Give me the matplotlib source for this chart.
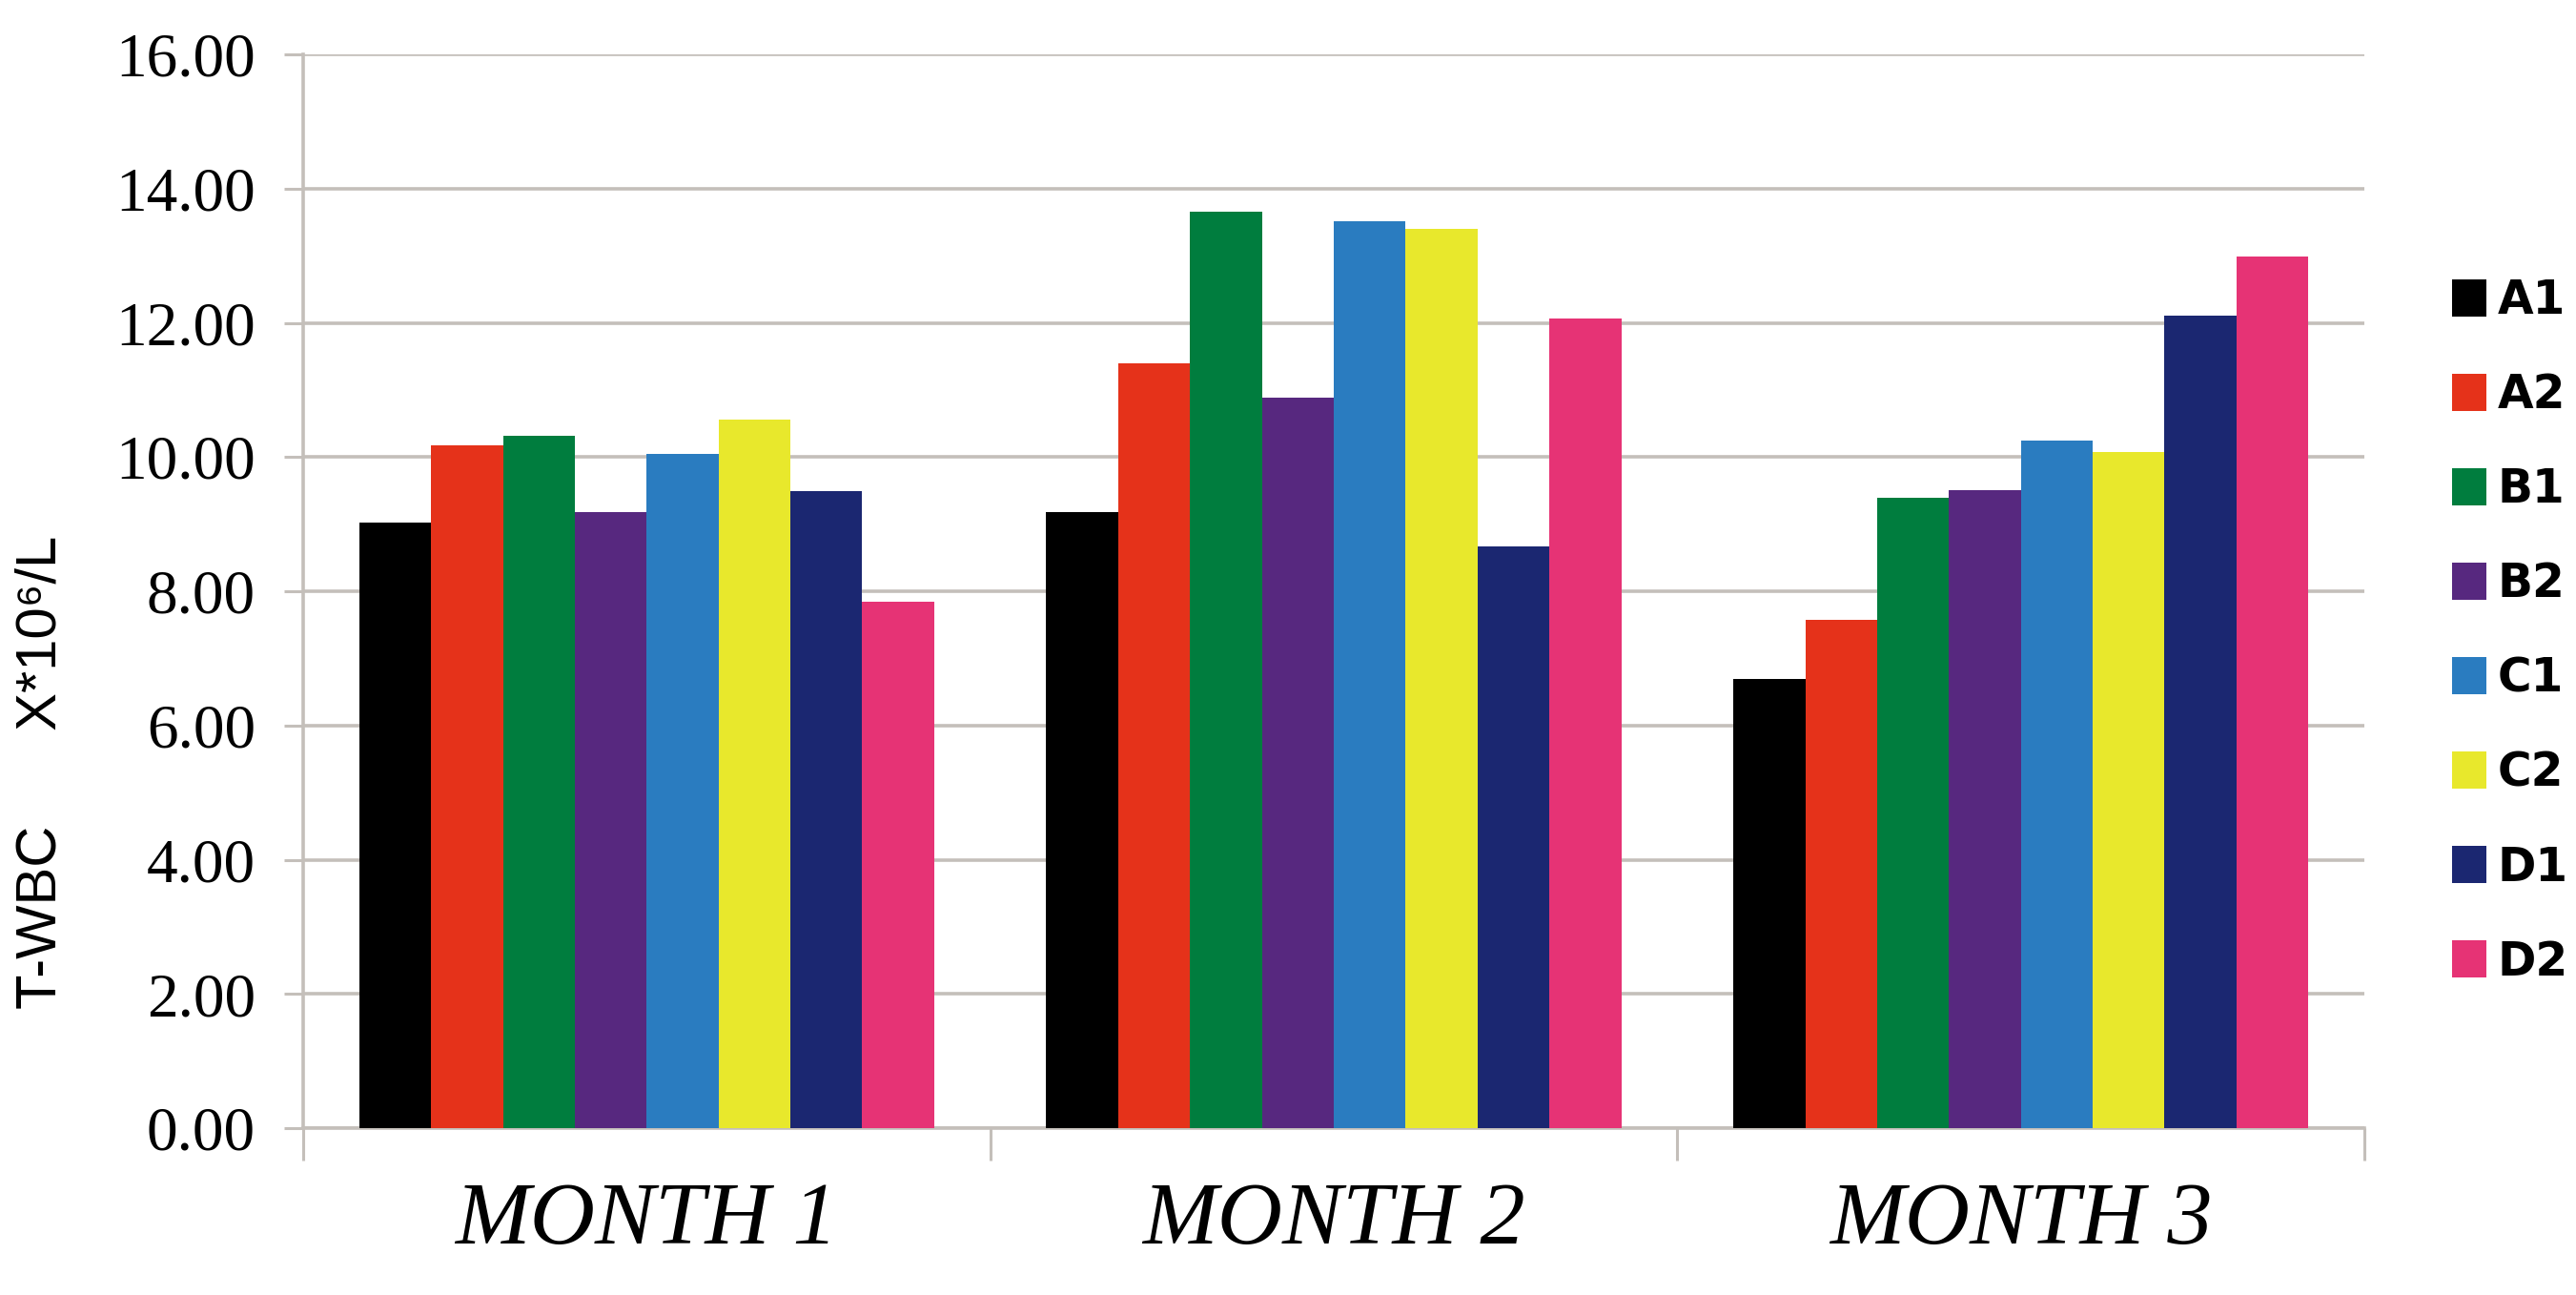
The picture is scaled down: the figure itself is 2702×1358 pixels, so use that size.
import matplotlib
matplotlib.use("Agg")
import matplotlib.pyplot as plt
import numpy as np
from matplotlib.ticker import FixedLocator

# ---- data ----
months = ["MONTH 1", "MONTH 2", "MONTH 3"]
groups = ["A1", "A2", "B1", "B2", "C1", "C2", "D1", "D2"]
A1 = [9.03, 9.18, 6.69]
A2 = [10.18, 11.39, 7.57]
B1 = [10.31, 13.65, 9.39]
B2 = [9.18, 10.88, 9.50]
C1 = [10.05, 13.51, 10.24]
C2 = [10.56, 13.40, 10.08]
D1 = [9.49, 8.67, 12.11]
D2 = [7.84, 12.06, 12.99]
series = [A1, A2, B1, B2, C1, C2, D1, D2]
colors = ["#000000", "#e5321a", "#007d3e", "#57287f",
          "#2a7cc0", "#e8e82c", "#1b2771", "#e63375"]
yticks = [0, 2, 4, 6, 8, 10, 12, 14, 16]

W, H = 2702, 1358
fig = plt.figure(figsize=(W / 100, H / 100), dpi=100)
fig.patch.set_facecolor("white")
ax = fig.add_axes([318 / W, 1 - 1183 / H, (2480 - 318) / W, (1183 - 57) / H])

grid_c = "#c4bfba"
x = np.arange(len(months))
n = len(groups)
bw = 0.1046
for i, (vals, c, g) in enumerate(zip(series, colors, groups)):
    off = (i - (n - 1) / 2) * bw
    ax.bar(x + off, vals, width=bw, color=c, label=g, zorder=3, linewidth=0)

ax.set_xlim(-0.5, len(months) - 0.5)
ax.set_ylim(0, 16)
ax.set_yticks(yticks)
ax.set_yticklabels([f"{v:.2f}" for v in yticks], family="Liberation Serif",
                   fontsize=47)
ax.yaxis.grid(True, color=grid_c, linewidth=2.6, zorder=0)
ax.set_axisbelow(True)

ax.set_xticks(x)
ax.set_xticklabels(months, family="Liberation Serif", style="italic",
                   fontsize=68)
ax.xaxis.set_minor_locator(FixedLocator(np.arange(-0.5, len(months), 1.0)))
ax.tick_params(axis="x", which="major", length=0, pad=40)
ax.tick_params(axis="x", which="minor", length=24.5, width=2.2, color=grid_c,
               direction="out")
ax.tick_params(axis="y", which="major", length=14.4, width=2.2, color=grid_c,
               pad=21.6, direction="out")

for s in ["top", "right"]:
    ax.spines[s].set_visible(False)
for s in ["left", "bottom"]:
    ax.spines[s].set_color(grid_c)
    ax.spines[s].set_linewidth(2.6)

fig.text(43 / W, 1 - 810 / H, "T-WBC      X*10\u2076/L", rotation=90,
         ha="center", va="center", fontsize=43,
         family=["Liberation Sans", "DejaVu Sans"])

leg = fig.legend(loc="center left", bbox_to_anchor=(2572 / W, 1 - 662 / H),
                 frameon=False, borderpad=0, borderaxespad=0,
                 prop={"family": "DejaVu Sans", "weight": "bold", "size": 35},
                 handlelength=0.74, handleheight=0.85, handletextpad=0.24,
                 labelspacing=1.05)

fig.savefig("out.png", dpi=100, facecolor="white")
